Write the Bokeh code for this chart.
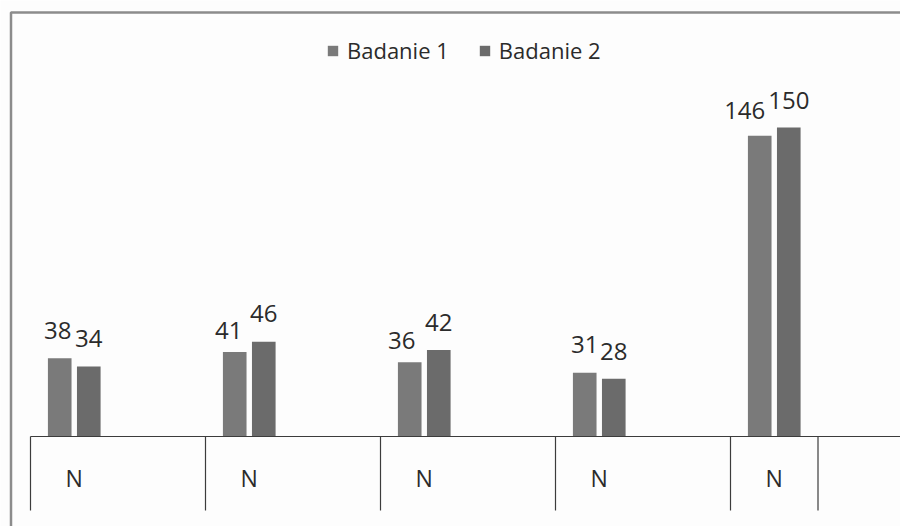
from bokeh.plotting import figure
from bokeh.models import Range1d, ColumnDataSource, Legend, LegendItem
from bokeh.core.properties import value
from bokeh.embed import file_html
from bokeh.resources import INLINE

# ---------------- data ----------------
categories = ["N", "N", "N", "N", "N"]
series_names = ["Badanie 1", "Badanie 2"]
badanie_1 = [38, 41, 36, 31, 146]
badanie_2 = [34, 46, 42, 28, 150]
group_slots = [2, 2, 2, 2, 1]          # category slots occupied by each group

# per-label nudges (screen px) of the value labels, as placed in the original
label1_dx = [-2, -6, -8, 0, -15]
label1_dy = [19, 13, 13, 19, 16]
label2_dx = [0, 0, 0, 0, 0]
label2_dy = [19, 19, 18, 18, 18]

# ---------------- layout ----------------
W, H = 900, 526
PX_SLOT = 87.5      # px per category slot
PX_UNIT = 2.06      # px per value unit
X0 = 30             # px of the axis start
BASE = 436          # px (from top) of the baseline
LBL_EXTRA = 9       # extra lift of value labels

FONT = "Open Sans"
TXT = "#2b2b2b"
C1, C2 = "#7a7a7a", "#6b6b6b"
AXIS_C = "#3c3c3c"
FRAME_C = "#8c8c8c"
BG = "#fdfdfd"

def xd(px):
    return (px - X0) / PX_SLOT

def yd(py):
    return (BASE - py) / PX_UNIT

p = figure(width=W, height=H, output_backend="svg", toolbar_location=None,
           x_range=Range1d(xd(0), xd(W)), y_range=Range1d(yd(H), yd(0)),
           x_axis_location=None, y_axis_location=None, min_border=0,
           background_fill_color=BG, border_fill_color=BG)
p.outline_line_color = None
p.xgrid.visible = False
p.ygrid.visible = False

# group geometry
starts = []
s = 0
for g in group_slots:
    starts.append(s)
    s += g
end_slot = s
centers = [st + 0.5 for st in starts]

OFF = 0.166
BW = 0.27
x1 = [c - OFF for c in centers]
x2 = [c + OFF for c in centers]

src1 = ColumnDataSource(dict(x=x1, top=badanie_1, lab=[str(v) for v in badanie_1],
                             dx=label1_dx, dy=[-(d + LBL_EXTRA) for d in label1_dy]))
src2 = ColumnDataSource(dict(x=x2, top=badanie_2, lab=[str(v) for v in badanie_2],
                             dx=label2_dx, dy=[-(d + LBL_EXTRA) for d in label2_dy]))

r1 = p.vbar(x="x", top="top", bottom=0, width=BW, source=src1,
            fill_color=C1, line_color=None)
r2 = p.vbar(x="x", top="top", bottom=0, width=BW, source=src2,
            fill_color=C2, line_color=None)

for src in (src1, src2):
    p.text(x="x", y="top", text="lab", source=src, x_offset="dx", y_offset="dy",
           text_align="center", text_baseline="alphabetic",
           text_font=value(FONT), text_font_size="24px", text_color=TXT)

# baseline
p.line(x=[0, xd(W)], y=[0, 0], line_color=AXIS_C, line_width=1.2)
# category separators
sep_x = starts + [end_slot]
tick_len = 74 / PX_UNIT
for sx in sep_x:
    p.line(x=[sx, sx], y=[0, -tick_len], line_color=AXIS_C, line_width=1.2)

# category labels
p.text(x=centers, y=[0] * len(centers), text=categories, y_offset=41,
       text_align="center", text_baseline="middle",
       text_font=value(FONT), text_font_size="23px", text_color=TXT)

# chart-area border (top and left visible)
p.line(x=[xd(10.5), xd(10.5), xd(W)], y=[yd(H), yd(12), yd(12)],
       line_color=FRAME_C, line_width=2.5)

legend = Legend(items=[LegendItem(label=series_names[0], renderers=[r1]),
                       LegendItem(label=series_names[1], renderers=[r2])],
                orientation="horizontal", location=(326, 461),
                padding=0, margin=0, spacing=29, glyph_width=13, glyph_height=13,
                label_standoff=8, border_line_color=None, background_fill_alpha=0,
                label_text_font=FONT, label_text_font_size="22px",
                label_text_color=TXT)
p.add_layout(legend)

open("out.html", "w").write(file_html(p, INLINE))
